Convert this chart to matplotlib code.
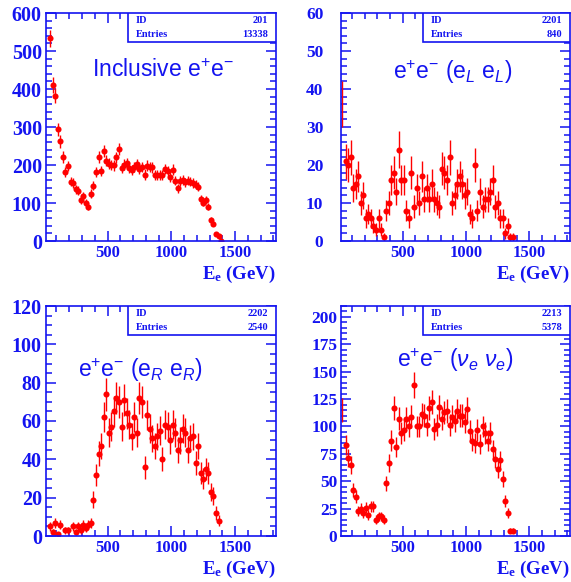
import numpy as np
import matplotlib.pyplot as plt
from matplotlib.patches import Rectangle
from matplotlib.ticker import MultipleLocator

plt.rcParams["font.family"] = "Liberation Serif"
plt.rcParams["mathtext.fontset"] = "custom"
plt.rcParams["mathtext.rm"] = "Liberation Sans"
plt.rcParams["mathtext.it"] = "Liberation Sans:italic"
plt.rcParams["mathtext.bf"] = "Liberation Serif:bold"

BLUE = "#1414f0"
RED = "#ff0000"

# bin centres of the E_e histograms (20 GeV bins)
energy = np.arange(50, 1410, 20)

inclusive = [533, 411, 382, 294, 262, 221, 181, 197, 156, 153,
             136, 132, 107, 118, 101, 90, 125, 145, 182, 221,
             185, 237, 211, 203, 200, 199, 220, 243, 192, 201,
             204, 193, 187, 195, 202, 190, 195, 175, 198, 195,
             194, 174, 174, 174, 174, 190, 184, 168, 188, 159,
             139, 158, 161, 154, 159, 156, 153, 148, 143, 111,
             101, 109, 90, 56, 46, 18, 14, 1]

el_el = [21, 20, 22, 14, 15, 17, 10, 12, 6, 7,
         6, 4, 3, 6, 3, 1, 8, 10, 16, 18,
         13, 24, 16, 16, 8, 6, 18, 9, 14, 10,
         17, 11, 14, 11, 15, 11, 10, 9, 19, 18,
         16, 22, 10, 12, 15, 17, 15, 12, 13, 7,
         6, 20, 8, 13, 9, 11, 11, 13, 16, 9,
         10, 6, 6, 2, 4, 1, 1]

er_er = [5, 2, 7, 1, 6, 0, 3, 3, 0, 5,
         2, 5, 3, 6, 4, 6, 7, 19, 32, 43,
         47, 62, 74, 54, 57, 65, 72, 70, 57, 71,
         64, 58, 52, 62, 54, 72, 70, 36, 63, 56,
         51, 47, 52, 55, 40, 58, 57, 50, 58, 54,
         45, 50, 56, 54, 45, 51, 52, 38, 47, 33,
         30, 35, 33, 23, 21, 12, 8]

nue_nue = [83, 71, 65, 42, 36, 23, 25, 21, 26, 19,
           27, 27, 15, 18, 18, 15, 48, 67, 87, 117,
           81, 107, 94, 97, 107, 100, 109, 138, 100, 100,
           111, 110, 101, 117, 122, 98, 101, 118, 107, 113,
           114, 101, 109, 105, 114, 110, 110, 104, 116, 96,
           87, 85, 97, 84, 100, 94, 87, 94, 79, 70,
           61, 69, 52, 32, 21, 5, 5]

# first bin lies on the left frame: only its error bar is seen
edge_energy = 20
edge_values = [None, 36, None, 115]

hist_ids = ["201", "2201", "2202", "2213"]
entries = ["13338", "840", "2540", "5378"]
titles = [r"$\mathrm{Inclusive\ e^{+}e^{-}}$",
          r"$\mathrm{e^{+}e^{-}\ (e_{\mathit{L}}\ e_{\mathit{L}})}$",
          r"$\mathrm{e^{+}e^{-}\ (e_{\mathit{R}}\ e_{\mathit{R}})}$",
          r"$\mathrm{e^{+}e^{-}\ (}\mathit{\nu}_{\mathit{e}}\ \mathit{\nu}_{\mathit{e}}\mathrm{)}$"]
series = [inclusive, el_el, er_er, nue_nue]
y_max = [600, 60, 120, 210]
y_major = [100, 10, 20, 25]
y_minor = [20, 2, 5, 5]
title_pos = [(0.51, 0.746), (0.488, 0.743), (0.409, 0.721), (0.497, 0.763)]
ylab_size = [14.5, 12.5, 14.5, 12.5]
ylab_pad = [3, 13, 3, 3]

W, H = 571, 582
boxes = [(46, 13, 276, 241), (341.5, 13, 570, 241),
         (46, 306, 276, 536), (341.5, 306, 570, 536)]

fig = plt.figure(figsize=(W / 100, H / 100), dpi=100)

for i in range(4):
    x0, y0, x1, y1 = boxes[i]
    ax = fig.add_axes([x0 / W, 1 - y1 / H, (x1 - x0) / W, (y1 - y0) / H])

    vals = np.array(series[i], dtype=float)
    xs = energy[:len(vals)]
    keep = vals > 0
    ax.errorbar(xs[keep], vals[keep], yerr=np.sqrt(vals[keep]), fmt="o",
                color=RED, ms=4.4, mew=0, elinewidth=1.0, capsize=0)
    if edge_values[i] is not None:
        ax.errorbar([edge_energy], [edge_values[i]], yerr=np.sqrt(edge_values[i]),
                    fmt="none", ecolor=RED, elinewidth=1.0, capsize=0)

    ax.set_xlim(18, 1820)
    ax.set_ylim(0, y_max[i])
    ax.xaxis.set_major_locator(MultipleLocator(500))
    ax.xaxis.set_minor_locator(MultipleLocator(100))
    ax.yaxis.set_major_locator(MultipleLocator(y_major[i]))
    ax.yaxis.set_minor_locator(MultipleLocator(y_minor[i]))
    ax.tick_params(which="both", direction="in", top=True, right=True,
                   color=BLUE, labelcolor=BLUE, width=1.1)
    ax.tick_params(which="major", length=7)
    ax.tick_params(which="minor", length=4)
    ax.tick_params(axis="x", labelsize=12, pad=3)
    ax.tick_params(axis="y", labelsize=ylab_size[i], pad=ylab_pad[i])
    for lab in ax.get_xticklabels() + ax.get_yticklabels():
        lab.set_fontweight("bold")
    for sp in ax.spines.values():
        sp.set_color(BLUE)
        sp.set_linewidth(1.2)

    ax.set_xlabel(r"$\mathbf{E_{e}}$ (GeV)", loc="right", color=BLUE,
                  fontsize=13.5, fontweight="bold", labelpad=2)

    # statistics box
    ax.add_patch(Rectangle((0.357, 0.872), 0.643, 0.128, transform=ax.transAxes,
                           facecolor="white", edgecolor=BLUE, lw=1.2, zorder=5))
    for txt, ha, xx, yy in [("ID", "left", 0.39, 0.969),
                            (hist_ids[i], "right", 0.965, 0.969),
                            ("Entries", "left", 0.39, 0.907),
                            (entries[i], "right", 0.965, 0.907)]:
        ax.text(xx, yy, txt, transform=ax.transAxes, color=BLUE, fontsize=7.5,
                fontweight="bold", va="center", ha=ha, zorder=6)

    ax.text(title_pos[i][0], title_pos[i][1], titles[i], transform=ax.transAxes,
            color=BLUE, fontsize=16.5, ha="center", va="center")

fig.savefig("out.png", dpi=100)
